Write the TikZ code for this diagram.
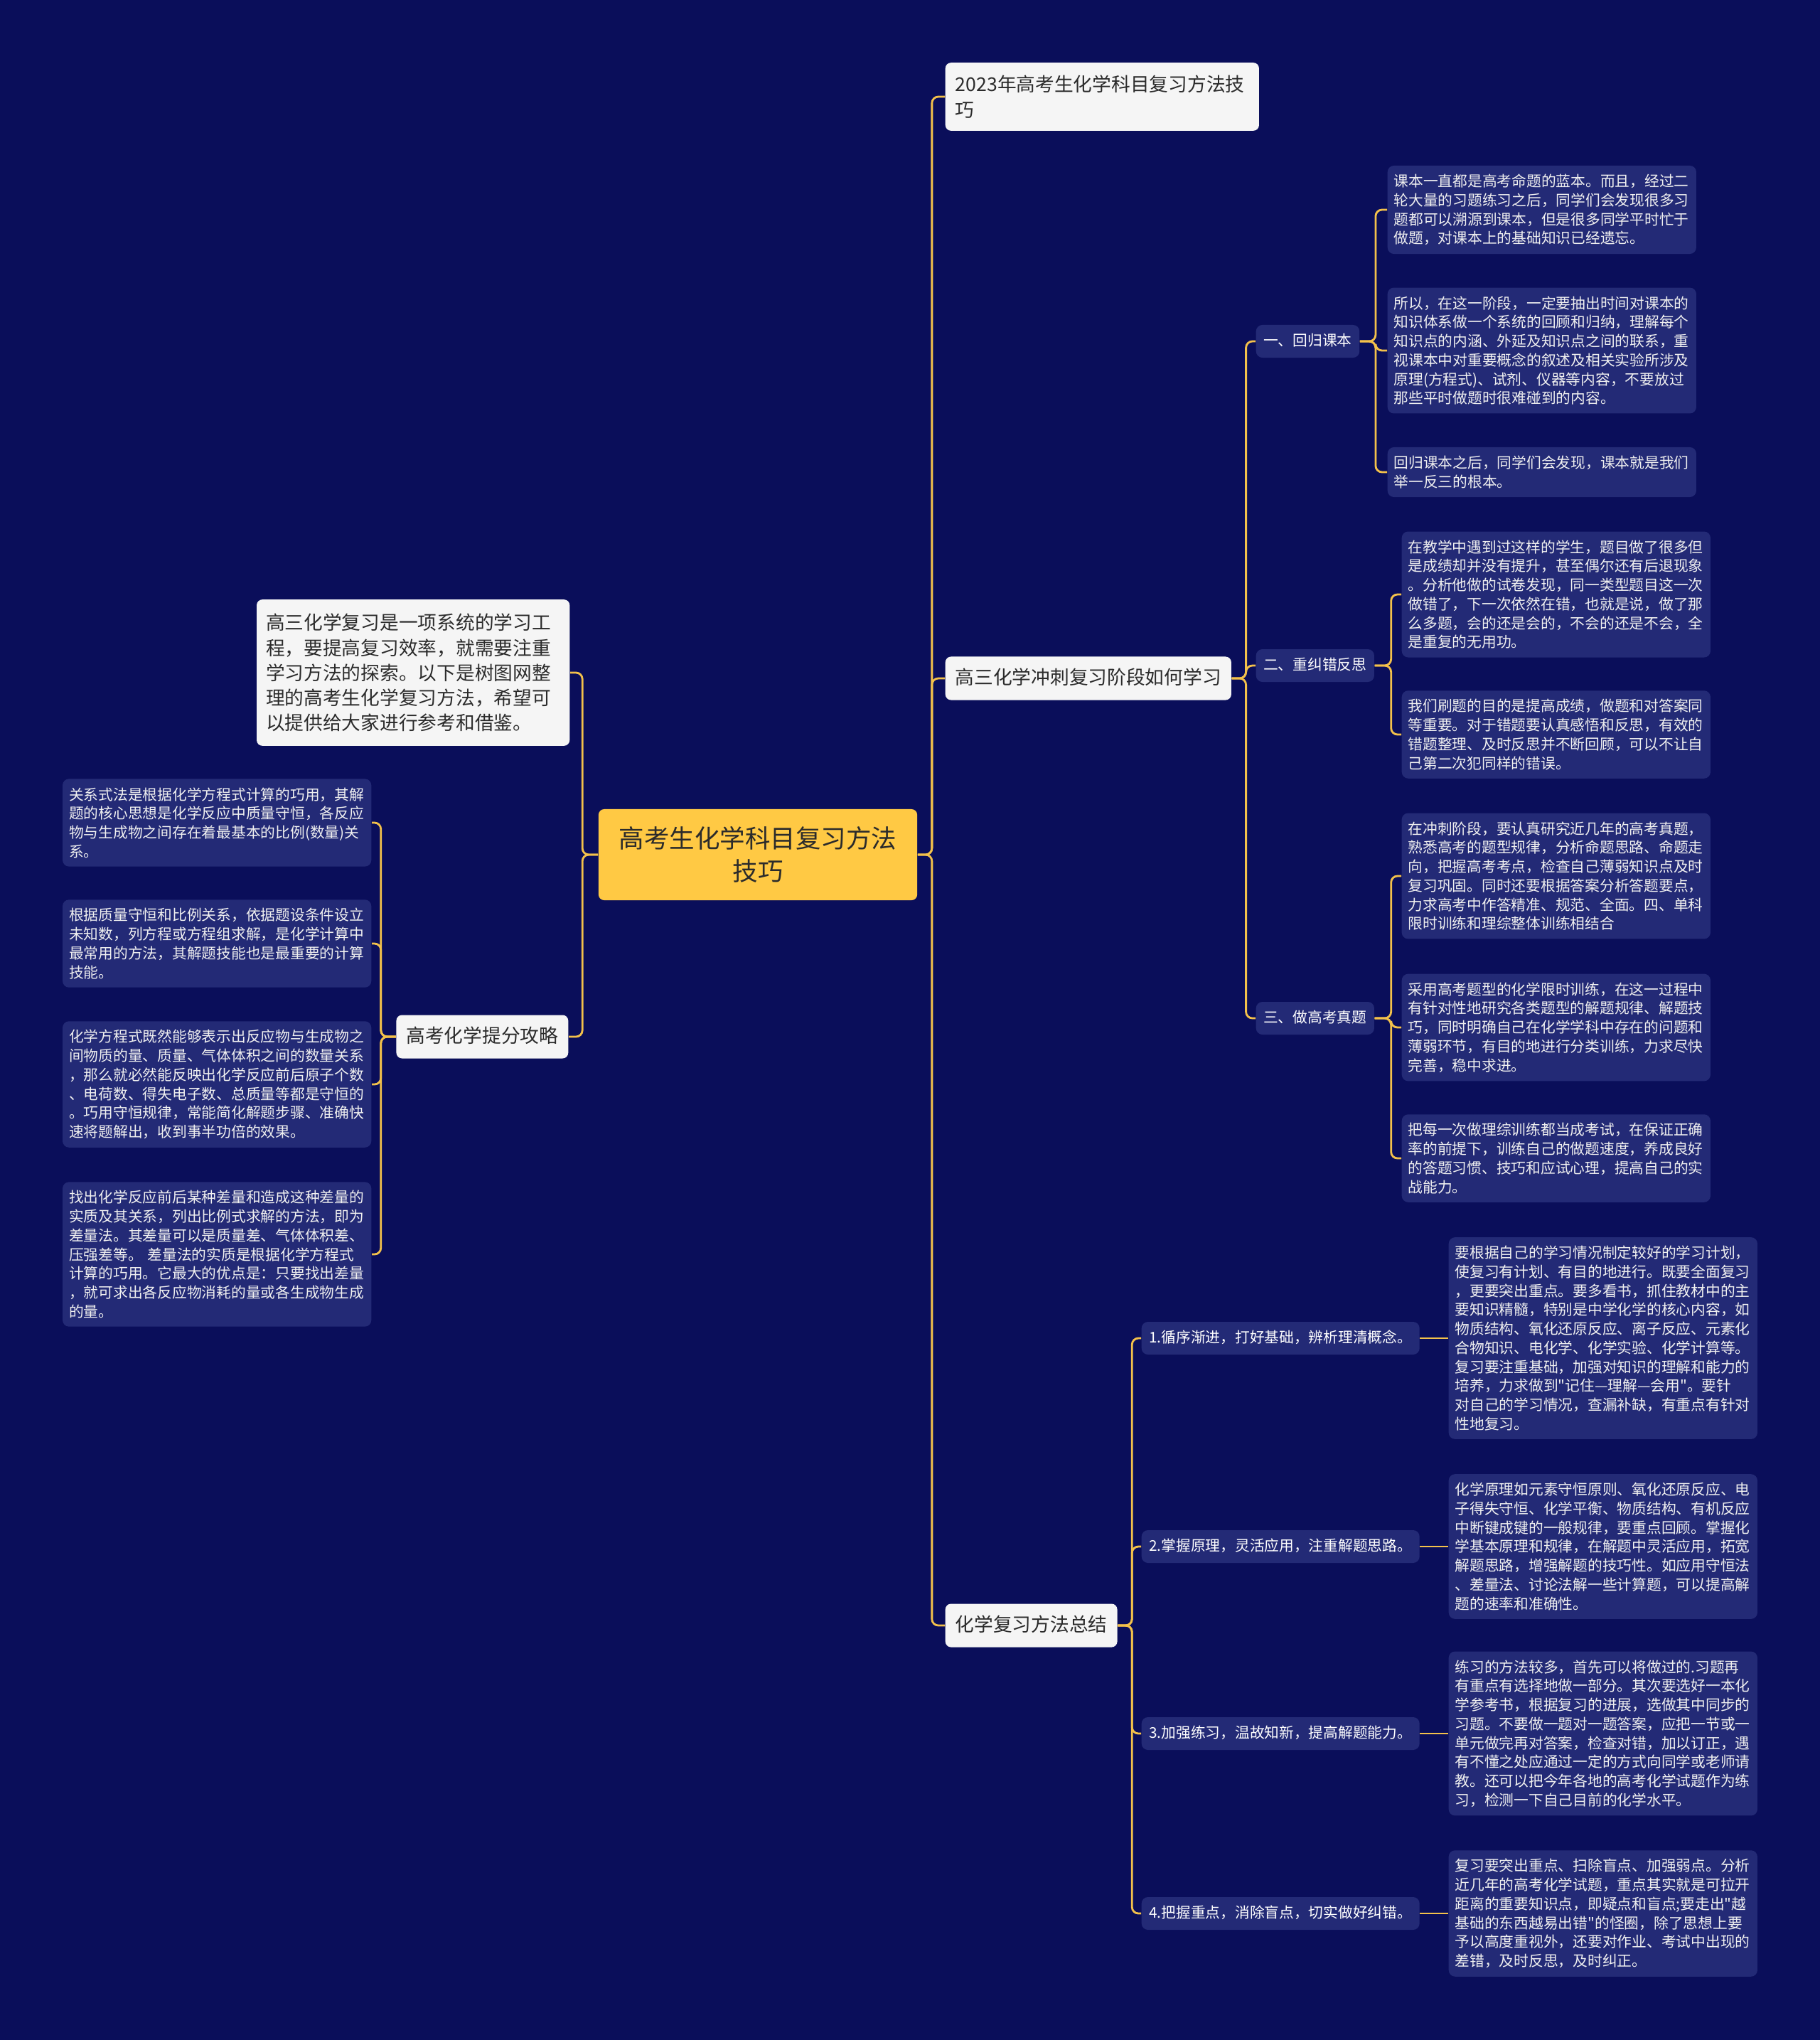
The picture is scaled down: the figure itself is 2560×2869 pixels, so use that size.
\documentclass[tikz,border=0pt]{standalone}
\usepackage{fontspec}
\newfontfamily\cjk{Noto Sans CJK SC}
\usepackage{tikz}
\usetikzlibrary{positioning}
\definecolor{bgnavy}{HTML}{0A0E5A}
\definecolor{leafblue}{HTML}{232A76}
\definecolor{linegold}{HTML}{F3C14B}
\definecolor{rootgold}{HTML}{FFC944}
\definecolor{paper}{HTML}{F5F5F5}
\definecolor{ink}{HTML}{2B2B2B}

\begin{document}
\begin{tikzpicture}[
    x=0.01cm, y=-0.01cm,
    root/.style={fill=rootgold, rounded corners=0.08cm, text=ink, font=\cjk\fontsize{10.1}{13.1}\selectfont, align=center, minimum width=4.48cm, minimum height=1.28cm, inner sep=0pt},
    topic/.style={fill=paper, rounded corners=0.08cm, text=ink, font=\cjk\fontsize{7.6}{10}\selectfont, inner xsep=0.14cm, inner ysep=0.17cm, text height=0.22cm, text depth=0.05cm},
    note/.style={fill=paper, rounded corners=0.08cm, text=ink, font=\cjk\fontsize{7.6}{10}\selectfont, align=left, text width=4.13cm, inner xsep=0.14cm, inner ysep=0.18cm},
    sub/.style={fill=leafblue, rounded corners=0.09cm, text=white, font=\cjk\fontsize{5.9}{7.6}\selectfont, inner xsep=0.105cm, inner ysep=0.125cm, text height=0.17cm, text depth=0.04cm},
    leaf/.style={fill=leafblue, rounded corners=0.09cm, text=white!94!black, font=\cjk\fontsize{5.9}{7.6}\selectfont, align=left, text width=4.16cm, inner xsep=0.09cm, inner ysep=0.12cm},
    link/.style={draw=linegold, line width=0.8pt, rounded corners=0.09cm},
]
    \fill[bgnavy] (0,0) rectangle (2560,2869);
    \useasboundingbox (0,0) rectangle (2560,2869);

    \node[root] (root) at (1066,1202) {高考生化学科目复习方法\\技巧};

    \node[note, anchor=west] (year) at (1329,136) {2023年高考生化学科目复习方法技\\巧};
    \node[topic, anchor=west] (sprint) at (1329,954) {高三化学冲刺复习阶段如何学习};
    \node[topic, anchor=west] (summary) at (1329,2286) {化学复习方法总结};
    \node[note, anchor=east, text width=4.14cm, inner xsep=0.13cm, inner ysep=0.2cm] (intro) at (802,946) {高三化学复习是一项系统的学习工\\程，要提高复习效率，就需要注重\\学习方法的探索。以下是树图网整\\理的高考生化学复习方法，希望可\\以提供给大家进行参考和借鉴。};
    \node[topic, anchor=east] (tips) at (800,1458) {高考化学提分攻略};

    \node[sub, anchor=west] (book) at (1766,480) {一、回归课本};
    \node[sub, anchor=west] (fix) at (1766,936) {二、重纠错反思};
    \node[sub, anchor=west] (exam) at (1766,1432) {三、做高考真题};

    \node[leaf, anchor=west] (bookA) at (1951,295) {课本一直都是高考命题的蓝本。而且，经过二\\轮大量的习题练习之后，同学们会发现很多习\\题都可以溯源到课本，但是很多同学平时忙于\\做题，对课本上的基础知识已经遗忘。};
    \node[leaf, anchor=west] (bookB) at (1951,493) {所以，在这一阶段，一定要抽出时间对课本的\\知识体系做一个系统的回顾和归纳，理解每个\\知识点的内涵、外延及知识点之间的联系，重\\视课本中对重要概念的叙述及相关实验所涉及\\原理(方程式)、试剂、仪器等内容，不要放过\\那些平时做题时很难碰到的内容。};
    \node[leaf, anchor=west] (bookC) at (1951,664) {回归课本之后，同学们会发现，课本就是我们\\举一反三的根本。};

    \node[leaf, anchor=west] (fixA) at (1971,836) {在教学中遇到过这样的学生，题目做了很多但\\是成绩却并没有提升，甚至偶尔还有后退现象\\。分析他做的试卷发现，同一类型题目这一次\\做错了，下一次依然在错，也就是说，做了那\\么多题，会的还是会的，不会的还是不会，全\\是重复的无用功。};
    \node[leaf, anchor=west] (fixB) at (1971,1033) {我们刷题的目的是提高成绩，做题和对答案同\\等重要。对于错题要认真感悟和反思，有效的\\错题整理、及时反思并不断回顾，可以不让自\\己第二次犯同样的错误。};

    \node[leaf, anchor=west] (examA) at (1971,1232) {在冲刺阶段，要认真研究近几年的高考真题，\\熟悉高考的题型规律，分析命题思路、命题走\\向，把握高考考点，检查自己薄弱知识点及时\\复习巩固。同时还要根据答案分析答题要点，\\力求高考中作答精准、规范、全面。四、单科\\限时训练和理综整体训练相结合};
    \node[leaf, anchor=west] (examB) at (1971,1445) {采用高考题型的化学限时训练，在这一过程中\\有针对性地研究各类题型的解题规律、解题技\\巧，同时明确自己在化学学科中存在的问题和\\薄弱环节，有目的地进行分类训练，力求尽快\\完善，稳中求进。};
    \node[leaf, anchor=west] (examC) at (1971,1629) {把每一次做理综训练都当成考试，在保证正确\\率的前提下，训练自己的做题速度，养成良好\\的答题习惯、技巧和应试心理，提高自己的实\\战能力。};

    \node[sub, anchor=west] (stepA) at (1605,1882) {1.循序渐进，打好基础，辨析理清概念。};
    \node[sub, anchor=west] (stepB) at (1605,2175) {2.掌握原理，灵活应用，注重解题思路。};
    \node[sub, anchor=west] (stepC) at (1605,2438) {3.加强练习，温故知新，提高解题能力。};
    \node[sub, anchor=west] (stepD) at (1605,2691) {4.把握重点，消除盲点，切实做好纠错。};

    \node[leaf, anchor=west] (stepAtext) at (2037,1882) {要根据自己的学习情况制定较好的学习计划，\\使复习有计划、有目的地进行。既要全面复习\\，更要突出重点。要多看书，抓住教材中的主\\要知识精髓，特别是中学化学的核心内容，如\\物质结构、氧化还原反应、离子反应、元素化\\合物知识、电化学、化学实验、化学计算等。\\复习要注重基础，加强对知识的理解和能力的\\培养，力求做到"记住—理解—会用"。要针\\对自己的学习情况，查漏补缺，有重点有针对\\性地复习。};
    \node[leaf, anchor=west] (stepBtext) at (2037,2175) {化学原理如元素守恒原则、氧化还原反应、电\\子得失守恒、化学平衡、物质结构、有机反应\\中断键成键的一般规律，要重点回顾。掌握化\\学基本原理和规律，在解题中灵活应用，拓宽\\解题思路，增强解题的技巧性。如应用守恒法\\、差量法、讨论法解一些计算题，可以提高解\\题的速率和准确性。};
    \node[leaf, anchor=west] (stepCtext) at (2037,2438) {练习的方法较多，首先可以将做过的.习题再\\有重点有选择地做一部分。其次要选好一本化\\学参考书，根据复习的进展，选做其中同步的\\习题。不要做一题对一题答案，应把一节或一\\单元做完再对答案，检查对错，加以订正，遇\\有不懂之处应通过一定的方式向同学或老师请\\教。还可以把今年各地的高考化学试题作为练\\习，检测一下自己目前的化学水平。};
    \node[leaf, anchor=west] (stepDtext) at (2037,2691) {复习要突出重点、扫除盲点、加强弱点。分析\\近几年的高考化学试题，重点其实就是可拉开\\距离的重要知识点，即疑点和盲点;要走出"越\\基础的东西越易出错"的怪圈，除了思想上要\\予以高度重视外，还要对作业、考试中出现的\\差错，及时反思，及时纠正。};

    \node[leaf, anchor=east] (tipA) at (523,1157) {关系式法是根据化学方程式计算的巧用，其解\\题的核心思想是化学反应中质量守恒，各反应\\物与生成物之间存在着最基本的比例(数量)关\\系。};
    \node[leaf, anchor=east] (tipB) at (523,1327) {根据质量守恒和比例关系，依据题设条件设立\\未知数，列方程或方程组求解，是化学计算中\\最常用的方法，其解题技能也是最重要的计算\\技能。};
    \node[leaf, anchor=east] (tipC) at (523,1525) {化学方程式既然能够表示出反应物与生成物之\\间物质的量、质量、气体体积之间的数量关系\\，那么就必然能反映出化学反应前后原子个数\\、电荷数、得失电子数、总质量等都是守恒的\\。巧用守恒规律，常能简化解题步骤、准确快\\速将题解出，收到事半功倍的效果。};
    \node[leaf, anchor=east] (tipD) at (523,1764) {找出化学反应前后某种差量和造成这种差量的\\实质及其关系，列出比例式求解的方法，即为\\差量法。其差量可以是质量差、气体体积差、\\压强差等。 差量法的实质是根据化学方程式\\计算的巧用。它最大的优点是：只要找出差量\\，就可求出各反应物消耗的量或各生成物生成\\的量。};

    \draw[link] (root.east) -- ++(20,0) |- (year.west);
    \draw[link] (root.east) -- ++(20,0) |- (sprint.west);
    \draw[link] (root.east) -- ++(20,0) |- (summary.west);
    \draw[link] (root.west) -- ++(-22,0) |- (intro.east);
    \draw[link] (root.west) -- ++(-22,0) |- (tips.east);

    \draw[link] (sprint.east) -- ++(20,0) |- (book.west);
    \draw[link] (sprint.east) -- ++(20,0) |- (fix.west);
    \draw[link] (sprint.east) -- ++(20,0) |- (exam.west);

    \draw[link] (book.east) -- ++(22,0) |- (bookA.west);
    \draw[link] (book.east) -- ++(22,0) |- (bookB.west);
    \draw[link] (book.east) -- ++(22,0) |- (bookC.west);
    \draw[link] (fix.east) -- ++(23,0) |- (fixA.west);
    \draw[link] (fix.east) -- ++(23,0) |- (fixB.west);
    \draw[link] (exam.east) -- ++(23,0) |- (examA.west);
    \draw[link] (exam.east) -- ++(23,0) |- (examB.west);
    \draw[link] (exam.east) -- ++(23,0) |- (examC.west);

    \draw[link] (summary.east) -- ++(20,0) |- (stepA.west);
    \draw[link] (summary.east) -- ++(20,0) |- (stepB.west);
    \draw[link] (summary.east) -- ++(20,0) |- (stepC.west);
    \draw[link] (summary.east) -- ++(20,0) |- (stepD.west);
    \draw[link] (stepA.east) -- (stepAtext.west);
    \draw[link] (stepB.east) -- (stepBtext.west);
    \draw[link] (stepC.east) -- (stepCtext.west);
    \draw[link] (stepD.east) -- (stepDtext.west);

    \draw[link] (tips.west) -- ++(-21,0) |- (tipA.east);
    \draw[link] (tips.west) -- ++(-21,0) |- (tipB.east);
    \draw[link] (tips.west) -- ++(-21,0) |- (tipC.east);
    \draw[link] (tips.west) -- ++(-21,0) |- (tipD.east);
\end{tikzpicture}
\end{document}
